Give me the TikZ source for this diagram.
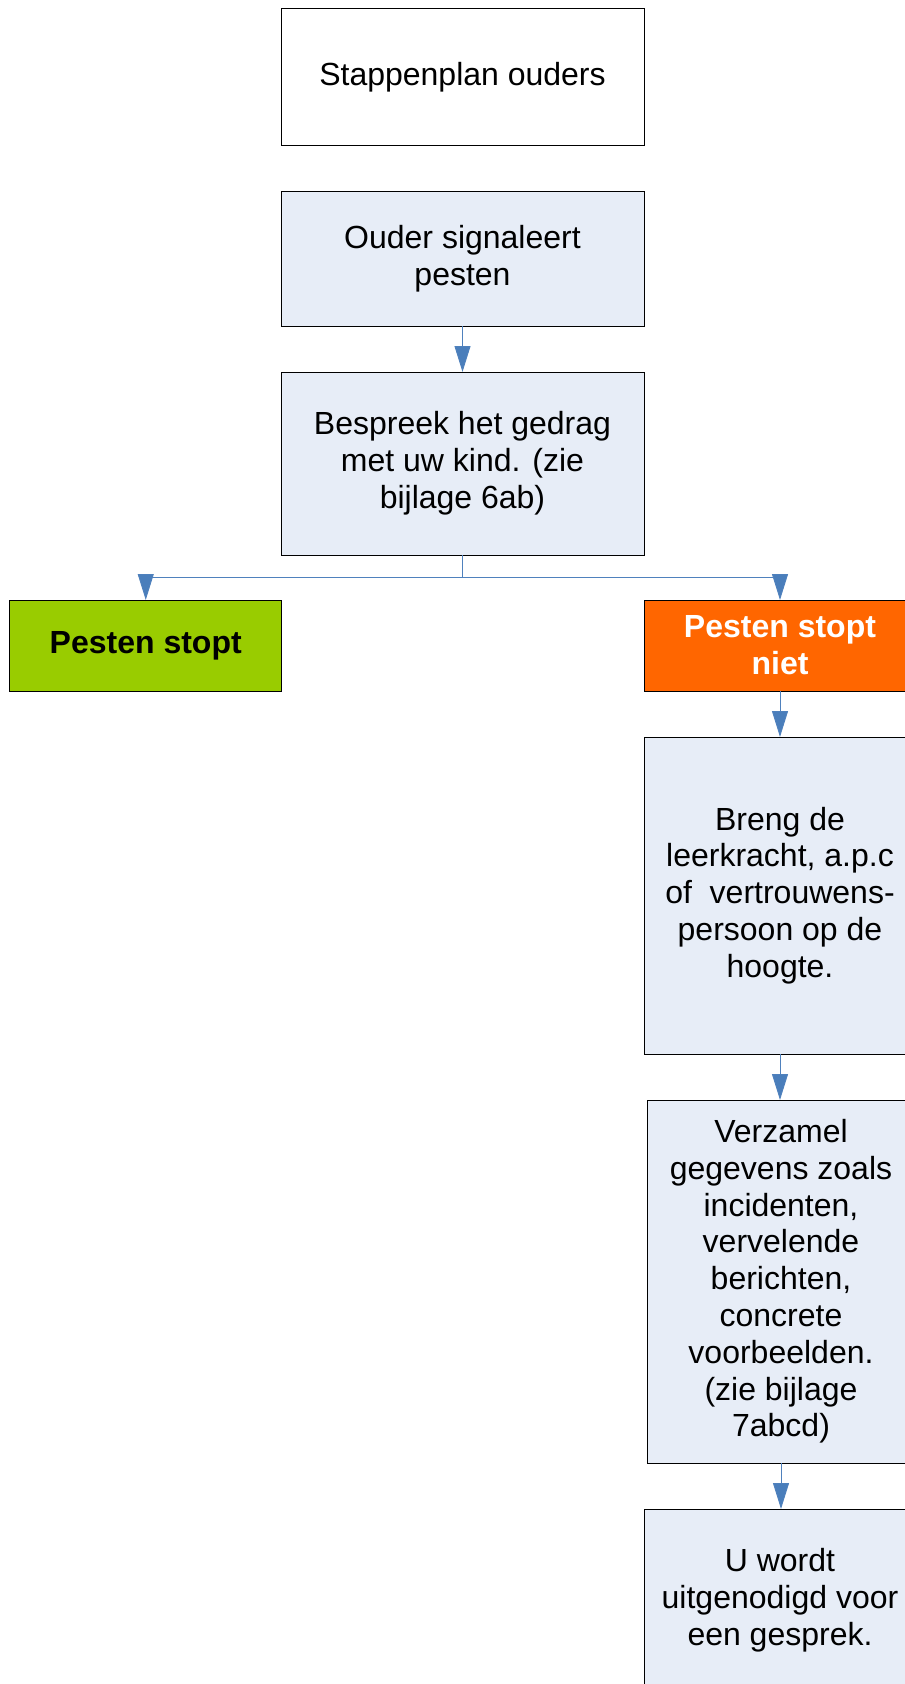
\documentclass[tikz,border=0pt]{standalone}
\usepackage{fontspec}
\setmainfont{Liberation Sans}
\usetikzlibrary{arrows.meta}

\definecolor{boxblue}{RGB}{231,237,247}
\definecolor{linkblue}{RGB}{79,129,189}
\definecolor{tipblue}{RGB}{74,126,187}
\definecolor{stopgreen}{RGB}{153,204,0}
\definecolor{nietorange}{RGB}{255,102,0}

\tikzset{
  stap/.style={draw=black,line width=0.75pt,fill=boxblue,align=center,outer sep=0pt,
    inner sep=2pt,font=\fontsize{24}{27.6}\selectfont},
  link/.style={draw=linkblue,line width=0.75pt,-{Triangle[length=19.5pt,width=12pt,fill=tipblue]}}
}

\begin{document}
\begin{tikzpicture}[x=0.75pt,y=-0.75pt]
\useasboundingbox (0,0) rectangle (905,1684);
\node[stap,fill=white,minimum width=272.25pt,minimum height=102pt] (titel) at (462.5,77) {Stappenplan ouders};
\node[stap,minimum width=272.25pt,minimum height=101.25pt] (signaal) at (462.5,258.5) {Ouder signaleert\\pesten};
\node[stap,minimum width=272.25pt,minimum height=137.25pt] (bespreek) at (462.5,463.5) {Bespreek het gedrag\\met uw kind. (zie\\bijlage 6ab)};
\node[stap,fill=stopgreen,minimum width=204pt,minimum height=68.25pt,font=\fontsize{24}{27.6}\selectfont\bfseries] (stopt) at (145.75,645.5) {Pesten stopt};
\node[stap,fill=nietorange,text=white,minimum width=204pt,minimum height=68.25pt,font=\fontsize{24}{27.6}\selectfont\bfseries] (niet) at (780,645.5) {Pesten stopt\\niet};
\node[stap,minimum width=204pt,minimum height=237.75pt] (breng) at (780,895.5) {Breng de\\leerkracht, a.p.c\\of\ \ vertrouwens-\\persoon op de\\hoogte.};
\node[stap,minimum width=201pt,minimum height=272.25pt] (verzamel) at (781,1281.5) {Verzamel\\gegevens zoals\\incidenten,\\vervelende\\berichten,\\concrete\\voorbeelden.\\(zie bijlage\\7abcd)};
\node[stap,minimum width=204pt,minimum height=136.5pt] (gesprek) at (780,1600) {U wordt\\uitgenodigd voor\\een gesprek.};

\draw[link] (signaal.south) -- (bespreek.north);
\draw[link] (bespreek.south) -- ++(0,22) -| (stopt.north);
\draw[link] (bespreek.south) -- ++(0,22) -| (niet.north);
\draw[link] (niet.south) -- (breng.north);
\draw[link] (breng.south) -- (breng.south |- verzamel.north);
\draw[link] (verzamel.south) -- (verzamel.south |- gesprek.north);
\end{tikzpicture}
\end{document}
